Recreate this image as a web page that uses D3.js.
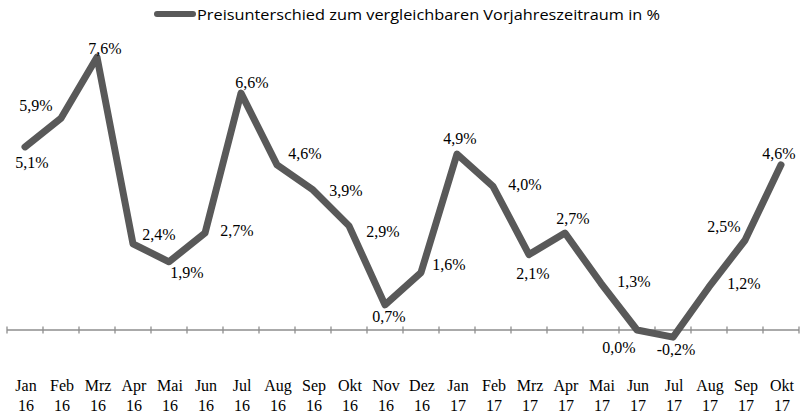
<!DOCTYPE html>
<html>
<head>
<meta charset="utf-8">
<script src="https://cdn.jsdelivr.net/npm/d3@7/dist/d3.min.js"></script>
<style>
  html, body { margin: 0; padding: 0; background: #ffffff; }
  svg { display: block; }
</style>
</head>
<body>
<svg id="chart" width="802" height="416"></svg>
<script>
// ---- data ----
const months = ["Jan","Feb","Mrz","Apr","Mai","Jun","Jul","Aug","Sep","Okt","Nov","Dez",
                "Jan","Feb","Mrz","Apr","Mai","Jun","Jul","Aug","Sep","Okt"];
const years  = ["16","16","16","16","16","16","16","16","16","16","16","16",
                "17","17","17","17","17","17","17","17","17","17"];
const values = [5.1, 5.9, 7.6, 2.4, 1.9, 2.7, 6.6, 4.6, 3.9, 2.9, 0.7, 1.6,
                4.9, 4.0, 2.1, 2.7, 1.3, 0.0, -0.2, 1.2, 2.5, 4.6];
const seriesName = "Preisunterschied zum vergleichbaren Vorjahreszeitraum in %";

// label placement (offset of label centre from point), separate from data
const labelOffsets = [[7,16],[-25,-13],[8,-9],[26,-9],[18,11],[32,-3],[11,-11],[28,-11],
                      [33,1],[34,6],[4,12],[28,-8],[3,-16],[32,-2],[4,19],[8,-15],
                      [33,-2],[-18,17],[3,12],[35,-3],[-21,-14],[-2,-11]];

const keys = months.map((m, i) => m + " " + years[i]);

const SERIF = '"Liberation Serif"';
const SANS = '"Open Sans"';

const svg = d3.select("#chart");

const x = d3.scaleBand().domain(keys).range([7, 799]).padding(0);
const y = d3.scaleLinear().domain([-1, 8]).range([365.9, 42.8]);
const cx = k => x(k) + x.bandwidth() / 2;

// axis line at zero
const y0 = y(0);
const axisColor = "#8e8e8e";
svg.append("line")
  .attr("x1", x.range()[0]).attr("x2", x.range()[1])
  .attr("y1", y0).attr("y2", y0)
  .attr("stroke", axisColor).attr("stroke-width", 1.5);

// tick marks at category boundaries
const bounds = keys.map(k => x(k)).concat([x.range()[1]]);
svg.selectAll("line.tick").data(bounds).enter().append("line")
  .attr("class", "tick")
  .attr("x1", d => d).attr("x2", d => d)
  .attr("y1", y0 - 3.5).attr("y2", y0 + 3.5)
  .attr("stroke", axisColor).attr("stroke-width", 1.3);

// category labels (two lines)
keys.forEach((k, i) => {
  svg.append("text")
    .attr("x", cx(k) + 1).attr("y", 391)
    .attr("text-anchor", "middle")
    .style("font-family", SERIF).style("font-size", "16px").style("fill", "#000")
    .text(months[i]);
  svg.append("text")
    .attr("x", cx(k) + 1).attr("y", 411)
    .attr("text-anchor", "middle")
    .style("font-family", SERIF).style("font-size", "16px").style("fill", "#000")
    .text(years[i]);
});

// line
const line = d3.line()
  .x((d, i) => cx(keys[i]))
  .y(d => y(d));
svg.append("path")
  .datum(values)
  .attr("d", line)
  .attr("fill", "none")
  .attr("stroke", "#595959")
  .attr("stroke-width", 7)
  .attr("stroke-linejoin", "round")
  .attr("stroke-linecap", "round");

// data labels
const fmt = v => v.toFixed(1).replace(".", ",") + "%";
svg.selectAll("text.lbl").data(values).enter().append("text")
  .attr("class", "lbl")
  .attr("text-anchor", "middle")
  .attr("x", (d, i) => cx(keys[i]) + labelOffsets[i][0])
  .attr("y", (d, i) => y(d) + labelOffsets[i][1] + 5.5)
  .style("font-family", SERIF).style("font-size", "16px").style("fill", "#000")
  .text(d => fmt(d));

// legend
svg.append("line")
  .attr("x1", 157).attr("x2", 193).attr("y1", 14).attr("y2", 14)
  .attr("stroke", "#595959").attr("stroke-width", 6).attr("stroke-linecap", "round");
svg.append("text")
  .attr("x", 197).attr("y", 19.5)
  .style("font-family", SANS).style("font-size", "15px").style("fill", "#000")
  .attr("textLength", 463).attr("lengthAdjust", "spacingAndGlyphs")
  .text(seriesName);
</script>
</body>
</html>
